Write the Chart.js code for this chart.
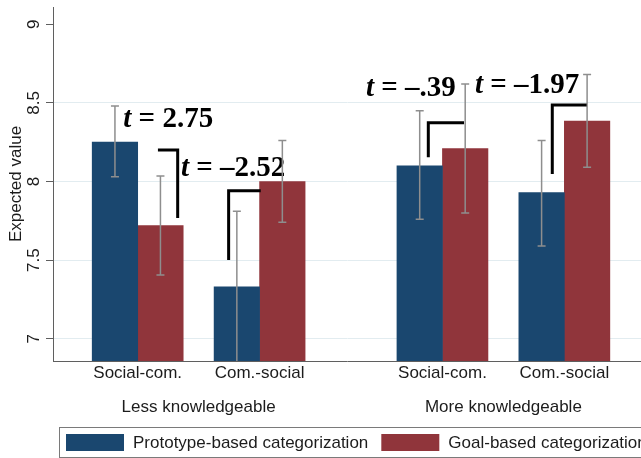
<!DOCTYPE html>
<html>
<head>
<meta charset="utf-8">
<title>Expected value by categorization type</title>
<script src="https://cdn.jsdelivr.net/npm/chart.js@4.4.1/dist/chart.umd.min.js"></script>
<style>
  html, body { margin: 0; padding: 0; background: #fff; }
  #wrap { width: 641px; height: 458px; }
</style>
</head>
<body>
<div id="wrap"><canvas id="chart" width="641" height="458"></canvas></div>
<script>
// ---- data ----
const groupNames = ['Less knowledgeable', 'More knowledgeable'];
const orderLabels = ['Social-com.', 'Com.-social', 'Social-com.', 'Com.-social'];
const slots = [1, 2, 3.5, 4.5];          // bar-pair positions on the x axis
const groupCentres = [1.5, 4];
const seriesNames = ['Prototype-based categorization', 'Goal-based categorization'];
const prototypeMean = [8.25, 7.33, 8.10, 7.93];
const prototypeLow  = [8.03, 6.85, 7.76, 7.59];
const prototypeHigh = [8.48, 7.81, 8.45, 8.26];
const goalMean = [7.72, 8.00, 8.21, 8.385];
const goalLow  = [7.405, 7.74, 7.80, 8.09];
const goalHigh = [8.035, 8.26, 8.62, 8.68];
const yTicks = [7, 7.5, 8, 8.5, 9];
const tValues = ['2.75', '\u20132.52', '\u2013.39', '\u20131.97'];

// ---- annotation placement (axis units) ----
const tAnchors = [[0.882, 8.344], [1.355, 8.032], [2.873, 8.547], [3.767, 8.561]];
const brackets = [
  [[1.166, 8.200], [1.328, 8.200], [1.328, 7.768]],
  [[2.009, 7.941], [1.746, 7.941], [1.746, 7.500]],
  [[3.677, 8.374], [3.384, 8.374], [3.384, 8.154]],
  [[4.683, 8.487], [4.401, 8.487], [4.401, 8.048]]
];

const NAVY = '#1a476f';
const MAROON = '#90353b';
const SANS = '"Liberation Sans", Arial, sans-serif';
const SERIF = '"Liberation Serif", "Times New Roman", serif';
const TEXT = '#1c1c1c';
const AXIS = '#5f5f5f';

const toPoints = vals => vals.map((v, i) => ({ x: slots[i], y: v }));

const overlay = {
  id: 'overlay',
  afterDatasetsDraw(chart) {
    const { ctx, chartArea: a, scales: { x, y } } = chart;

    // t statistics
    ctx.save();
    ctx.fillStyle = '#000';
    ctx.textAlign = 'left';
    ctx.textBaseline = 'alphabetic';
    tValues.forEach((v, i) => {
      let px = x.getPixelForValue(tAnchors[i][0]);
      const py = y.getPixelForValue(tAnchors[i][1]);
      ctx.font = 'italic bold 29px ' + SERIF;
      ctx.fillText('t', px, py);
      px += ctx.measureText('t').width;
      ctx.font = 'bold 29px ' + SERIF;
      ctx.fillText(' = ' + v, px, py);
    });
    ctx.restore();

    // confidence intervals
    ctx.save();
    ctx.beginPath();
    ctx.rect(a.left, a.top, a.right - a.left, a.bottom - a.top);
    ctx.clip();
    ctx.strokeStyle = '#8e8e8e';
    ctx.lineWidth = 1.5;
    [[prototypeLow, prototypeHigh], [goalLow, goalHigh]].forEach(([lo, hi], d) => {
      chart.getDatasetMeta(d).data.forEach((bar, i) => {
        const yl = y.getPixelForValue(lo[i]);
        const yh = y.getPixelForValue(hi[i]);
        ctx.beginPath();
        ctx.moveTo(bar.x, yl); ctx.lineTo(bar.x, yh);
        ctx.moveTo(bar.x - 4, yl); ctx.lineTo(bar.x + 4, yl);
        ctx.moveTo(bar.x - 4, yh); ctx.lineTo(bar.x + 4, yh);
        ctx.stroke();
      });
    });

    // comparison brackets
    ctx.strokeStyle = '#000';
    ctx.lineWidth = 3;
    ctx.lineJoin = 'miter';
    brackets.forEach(path => {
      ctx.beginPath();
      path.forEach(([vx, vy], k) => {
        const px = x.getPixelForValue(vx), py = y.getPixelForValue(vy);
        if (k === 0) ctx.moveTo(px, py); else ctx.lineTo(px, py);
      });
      ctx.stroke();
    });
    ctx.restore();
  },
  afterDraw(chart) {
    const { ctx, scales: { x, y } } = chart;
    ctx.save();
    ctx.fillStyle = TEXT;
    ctx.font = '17px ' + SANS;

    // rotated y tick labels
    ctx.textAlign = 'center';
    ctx.textBaseline = 'middle';
    yTicks.forEach(v => {
      ctx.save();
      ctx.translate(34, y.getPixelForValue(v));
      ctx.rotate(-Math.PI / 2);
      ctx.fillText(String(v), 0, 0);
      ctx.restore();
    });

    // group captions under the order labels
    groupNames.forEach((g, i) => {
      ctx.fillText(g, x.getPixelForValue(groupCentres[i]), 407);
    });

    // legend
    const top = 427, h = 30;
    ctx.strokeStyle = '#7a7a7a';
    ctx.lineWidth = 1;
    ctx.strokeRect(59.5, top + 0.5, 700, h);
    ctx.textAlign = 'left';
    let lx = 66;
    [NAVY, MAROON].forEach((c, i) => {
      ctx.fillStyle = c;
      ctx.fillRect(lx, top + 7, 58, 17);
      lx += 58 + 9;
      ctx.fillStyle = TEXT;
      ctx.fillText(seriesNames[i], lx, top + 16);
      lx += ctx.measureText(seriesNames[i]).width + 13;
    });
    ctx.restore();
  }
};

new Chart(document.getElementById('chart'), {
  type: 'bar',
  data: {
    datasets: [
      { label: seriesNames[0], data: toPoints(prototypeMean), backgroundColor: NAVY, borderWidth: 0, barThickness: 45.5 },
      { label: seriesNames[1], data: toPoints(goalMean), backgroundColor: MAROON, borderWidth: 0, barThickness: 45.5 }
    ]
  },
  options: {
    responsive: false,
    animation: false,
    devicePixelRatio: 1,
    layout: { padding: { top: 7, left: 0, right: 0, bottom: 0 } },
    plugins: { legend: { display: false }, tooltip: { enabled: false } },
    scales: {
      x: {
        type: 'linear',
        offset: false,
        min: 0.3052,
        max: 5.1288,
        afterBuildTicks: s => { s.ticks = slots.map(v => ({ value: v })); },
        afterFit: s => { s.height = 97; },
        grid: { offset: false, drawOnChartArea: false, drawTicks: false, color: 'rgba(0,0,0,0)' },
        border: { display: true, color: AXIS, width: 1 },
        ticks: {
          autoSkip: false, maxRotation: 0, padding: 2,
          font: { size: 17, family: SANS }, color: TEXT,
          callback: (v, i) => orderLabels[i]
        }
      },
      y: {
        min: 6.8581,
        max: 9.110,
        afterBuildTicks: s => { s.ticks = yTicks.map(v => ({ value: v })); },
        afterFit: s => { s.width = 53; },
        ticks: { display: false },
        grid: {
          color: c => (c.tick && c.tick.value === 9) ? 'rgba(0,0,0,0)' : '#e2ecf0',
          tickColor: AXIS, tickLength: 7, lineWidth: 1
        },
        border: { display: true, color: AXIS, width: 1 },
        title: {
          display: true, text: 'Expected value', color: TEXT,
          font: { size: 17, family: SANS }, padding: { top: 6, bottom: 0 }
        }
      }
    }
  },
  plugins: [overlay]
});
</script>
</body>
</html>
